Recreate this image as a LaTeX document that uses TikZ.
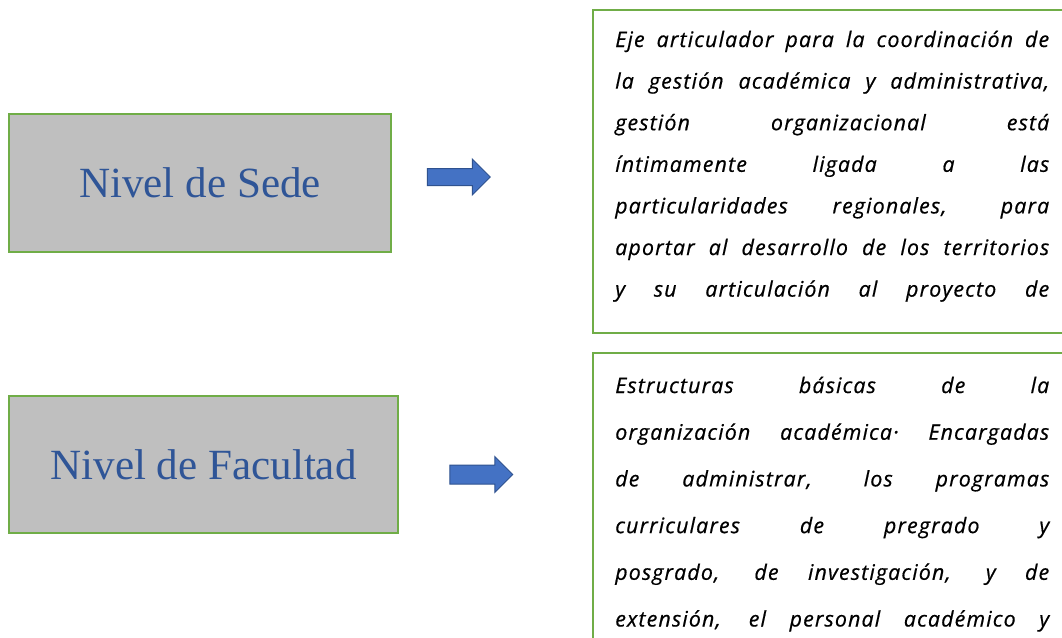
\documentclass[tikz,border=0pt]{standalone}
\usepackage{fontspec}
\setmainfont{Liberation Serif}
\newfontfamily\handfont[LetterSpace=5.5,FakeBold=0.6]{Open Sans}
\usetikzlibrary{shapes.arrows}
\definecolor{boxgray}{HTML}{BFBFBF}
\definecolor{boxgreen}{HTML}{70AD47}
\definecolor{arrowblue}{HTML}{4472C4}
\definecolor{arrowedge}{HTML}{2F528F}
\definecolor{leveltext}{HTML}{2F5597}
\begin{document}
\begin{tikzpicture}[x=0.75pt,y=-0.75pt,
  levelbox/.style={draw=boxgreen, line width=1.5pt, fill=boxgray, inner sep=0pt,
    font=\fontsize{32.3}{38}\selectfont, text=leveltext},
  descbox/.style={draw=boxgreen, line width=1.8pt, fill=white, inner sep=0pt, anchor=north west},
  blockarrow/.style={single arrow, draw=arrowedge, fill=arrowblue, line width=0.75pt,
    inner xsep=0pt, minimum height=47.25pt,
    single arrow tip angle=90, anchor=center},
  descline/.style={anchor=base west, inner sep=0pt,
    font=\handfont\itshape\fontsize{16}{18}\selectfont}]
\useasboundingbox (0,0) rectangle (1062,637);
\clip (0,0) rectangle (1062,637);
\fill[white] (0,0) rectangle (1062,637);

\node[levelbox, minimum width=286.5pt, minimum height=103.5pt] (sede) at (200,183) {Nivel de Sede};
\node[levelbox, minimum width=291.75pt, minimum height=102.75pt] (facultad) at (203.5,464.5) {Nivel de Facultad};

\node[blockarrow, inner ysep=6pt, single arrow head extend=7.125pt] (arrowsede) at (454.5,177) {};
\node[blockarrow, inner ysep=6.75pt, single arrow head extend=6.375pt] (arrowfac) at (476.5,474.5) {};

\node[descbox, minimum width=362pt, minimum height=242.25pt] (sededesc) at (592,9) {};
\node[descbox, minimum width=362pt, minimum height=250pt] (facdesc) at (592,352) {};

\foreach \t [count=\i] in {
  {Eje articulador para la coordinación de},
  {la gestión académica y administrativa,},
  {gestión organizacional está},
  {íntimamente ligada a las},
  {particularidades regionales, para},
  {aportar al desarrollo de los territorios},
  {y su articulación al proyecto de}}
  \node[descline] (sl\i) at (615,{47+(\i-1)*41.6}) {\makebox[325.5pt][s]{\t}};

\foreach \t [count=\i] in {
  {Estructuras básicas de la},
  {organización académica· Encargadas},
  {de administrar, los programas},
  {curriculares de pregrado y},
  {posgrado, de investigación, y de},
  {extensión, el personal académico y}}
  \node[descline] (fl\i) at (615,{393+(\i-1)*46.7}) {\makebox[325.5pt][s]{\t}};
\end{tikzpicture}
\end{document}
